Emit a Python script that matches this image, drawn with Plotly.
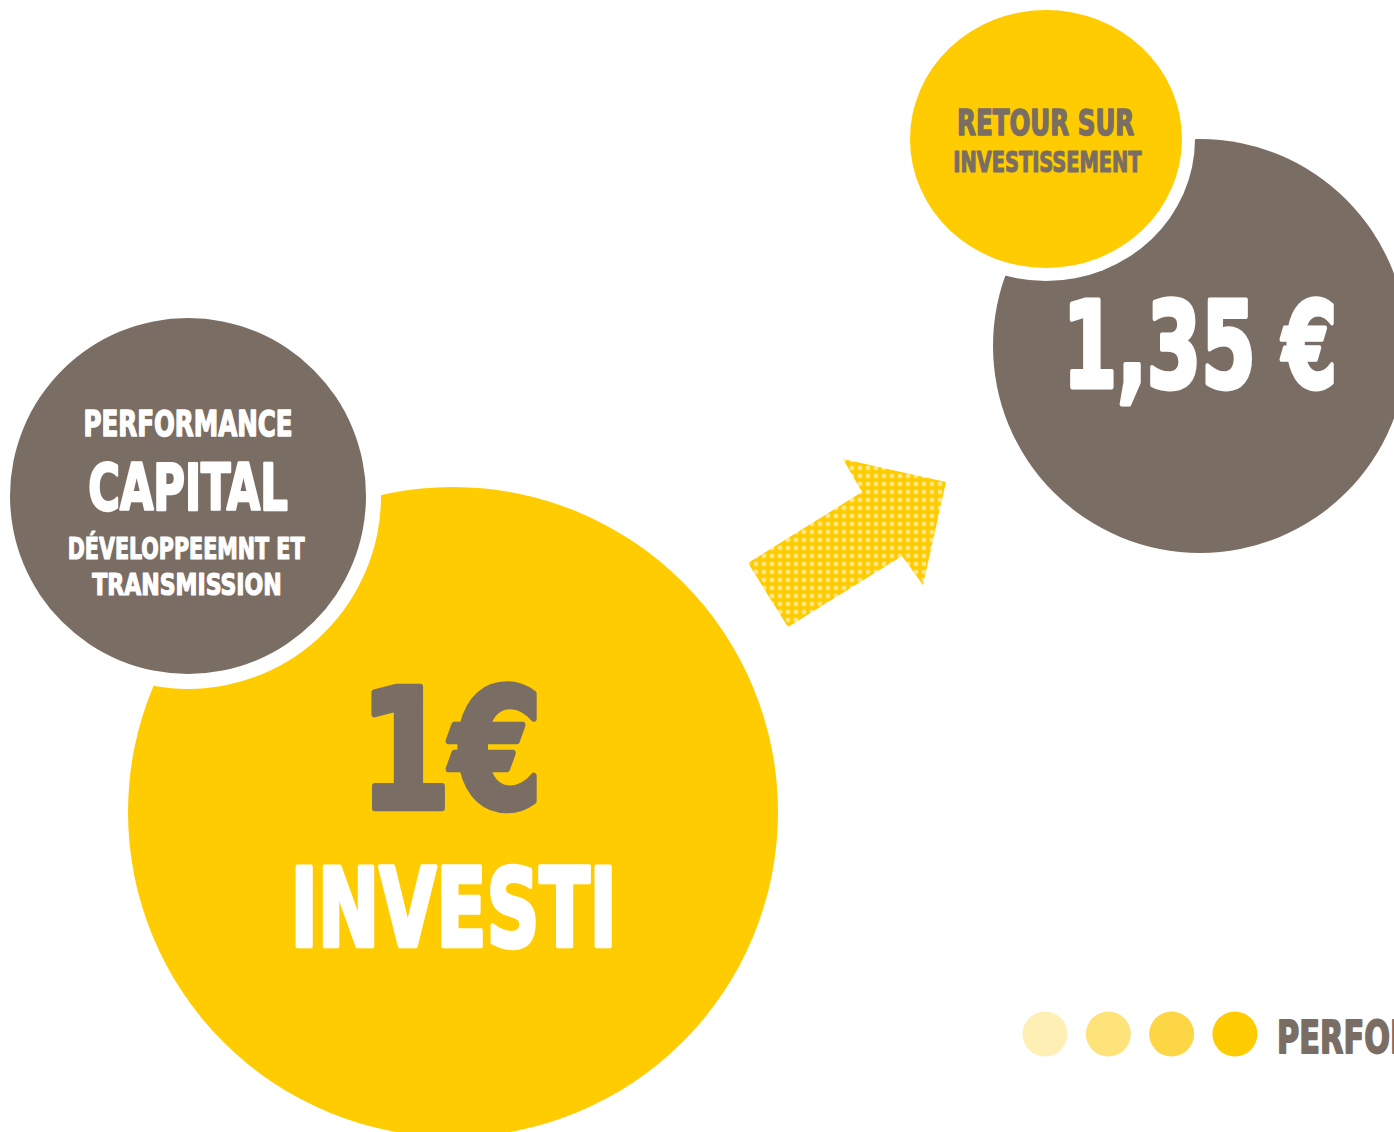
import json
import plotly.graph_objects as go

# ── Content ───────────────────────────────────────────────────────────────────
yellow = "#FECC00"
grey   = "#7A6E64"

left_badge   = ["PERFORMANCE", "CAPITAL", "DÉVELOPPEEMNT ET", "TRANSMISSION"]
amount_in    = "1€"
amount_label = "INVESTI"
return_badge = ["RETOUR SUR", "INVESTISSEMENT"]
amount_out   = "1,35 €"
footer_text  = "PERFORMANCE"
footer_dots  = ["#FEF0B5", "#FEE27A", "#FDD646", "#FECC00"]

# arrow outline (pixel space)
arrow_x = [748, 788, 902, 923, 946, 843, 862, 748]
arrow_y = [563, 627, 556, 585, 482, 459, 492, 563]

W, H = 1394, 1132
FONT = "DejaVu Sans Condensed, DejaVu Sans, sans-serif"

fig = go.Figure()

def circle(cx, cy, rx, ry, color):
    fig.add_shape(type="circle", xref="x", yref="y",
                  x0=cx - rx, x1=cx + rx, y0=cy - ry, y1=cy + ry,
                  fillcolor=color, line=dict(width=0), layer="below")

# big yellow + left grey badge with white ring
circle(453, 812, 325, 325, yellow)
circle(188, 496, 193, 193, "white")
circle(188, 496, 178, 178, grey)

# right grey + small yellow badge with white ring
circle(1200, 346, 207, 207, grey)
circle(1046, 139, 149, 142, "white")
circle(1046, 139, 136, 129, yellow)

# footer dots
for i, c in enumerate(footer_dots):
    circle(1045 + i * 63.3, 1034, 22.5, 22.5, c)

# patterned arrow
fig.add_trace(go.Scatter(
    x=arrow_x, y=arrow_y, mode="lines", fill="toself",
    line=dict(width=0, color=yellow), fillcolor=yellow,
    fillpattern=dict(shape=".", bgcolor=yellow, fgcolor="white",
                     size=8, solidity=0.3),
    hoverinfo="skip", showlegend=False,
))

# condensed look: horizontal squeeze + stroke per label (applied in the page)
squeeze = []

def label(x, y, text, size, color, sx, xanchor="center"):
    fig.add_annotation(x=x, y=y, xref="x", yref="y", text=text, showarrow=False,
                       xanchor=xanchor, yanchor="middle",
                       font=dict(family=FONT, size=size, color=color, weight="bold"))
    squeeze.append([sx, round(size * 0.04, 2), "left" if xanchor == "left" else "center"])

label(188, 424, left_badge[0], 35, "white", 0.78)
label(188, 488, left_badge[1], 64, "white", 0.75)
label(186, 548, left_badge[2], 31, "white", 0.74)
label(187, 584, left_badge[3], 31, "white", 0.79)

label(451, 750, amount_in, 166, grey, 0.88)
label(453, 908, amount_label, 109, "white", 0.75)

label(1045, 123, return_badge[0], 35, grey, 0.78)
label(1047, 162, return_badge[1], 28, grey, 0.77)

label(1200, 346, amount_out, 119, "white", 0.73)

label(1275, 1037, footer_text, 45, grey, 0.75, xanchor="left")

fig.update_xaxes(range=[0, W], visible=False, fixedrange=True)
fig.update_yaxes(range=[H, 0], visible=False, fixedrange=True)
fig.update_layout(
    width=W, height=H,
    margin=dict(l=0, r=0, t=0, b=0),
    paper_bgcolor="white", plot_bgcolor="white",
    showlegend=False,
)

post = """
document.body.style.margin = '0';
document.body.style.overflow = 'hidden';
var sq = %s;
function squeezeText() {
  document.querySelectorAll('.annotation-text').forEach(function (t, i) {
    if (!sq[i]) return;
    t.style.transformBox = 'fill-box';
    t.style.transformOrigin = sq[i][2] + ' center';
    t.style.transform = 'scaleX(' + sq[i][0] + ')';
    t.style.stroke = t.style.fill;
    t.style.strokeWidth = sq[i][1] + 'px';
    t.style.strokeLinejoin = 'round';
  });
}
var gd = document.getElementById('{plot_id}');
setTimeout(squeezeText, 0);
if (gd && gd.on) gd.on('plotly_afterplot', squeezeText);
""" % json.dumps(squeeze)

fig.write_html("out.html", post_script=post, config={"displayModeBar": False})
